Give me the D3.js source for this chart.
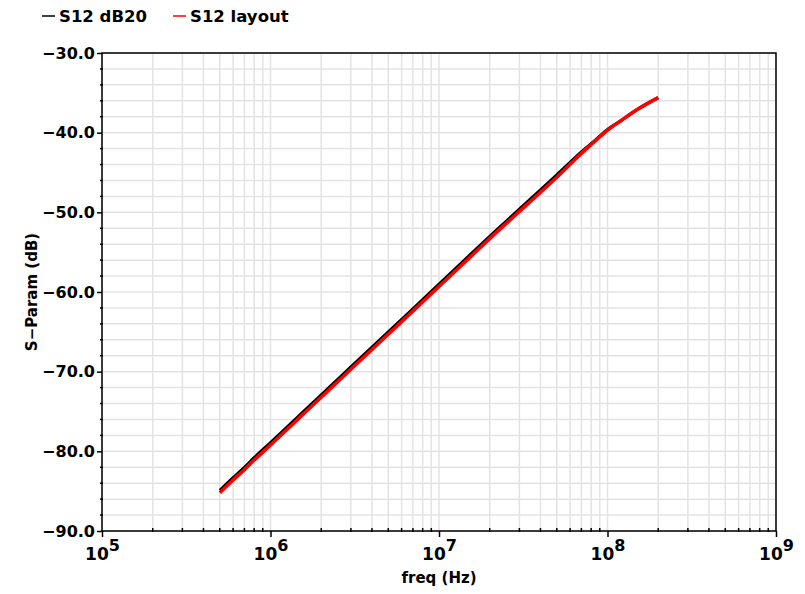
<!DOCTYPE html>
<html>
<head>
<meta charset="utf-8">
<script src="https://cdn.jsdelivr.net/npm/d3@7"></script>
<style>
  html, body { margin: 0; padding: 0; background: #fff; }
  svg { display: block; }
  text { font-family: "DejaVu Sans", Verdana, sans-serif; font-weight: bold; fill: #000; }
</style>
</head>
<body>
<svg id="chart" width="805" height="594"></svg>
<script>
// Frequency sweep points (Hz)
const freq = [5e5, 6e5, 7e5, 8e5, 1e6, 1.5e6, 2e6, 3e6, 5e6, 7e6, 1e7, 1.5e7, 2e7, 3e7, 5e7, 7e7, 8.5e7, 1e8, 1.2e8, 1.5e8, 2e8];
// S12 magnitude in dB, schematic simulation
const s12dB20 = [-84.9, -83.3, -82.0, -80.8, -78.9, -75.4, -72.9, -69.4, -65.0, -62.1, -59.0, -55.5, -53.0, -49.6, -45.3, -42.4, -40.9, -39.6, -38.5, -37.1, -35.6];
// S12 magnitude in dB, extracted layout
const s12Layout = [-85.2, -83.6, -82.3, -81.1, -79.2, -75.7, -73.2, -69.7, -65.3, -62.4, -59.3, -55.8, -53.3, -49.9, -45.6, -42.6, -41.0, -39.7, -38.5, -37.1, -35.6];

const xDomain = [1e5, 1e9];
const yDomain = [-90, -30];
const yTicks = [-90, -80, -70, -60, -50, -40, -30];
const xDecades = [5, 6, 7, 8, 9];
const seriesNames = ["S12 dB20", "S12 layout"];
const seriesColors = ["#000000", "#ff0000"];

const svg = d3.select("#chart");
const m = { left: 102, top: 53, right: 776, bottom: 531 };

const x = d3.scaleLog().domain(xDomain).range([m.left, m.right]);
const y = d3.scaleLinear().domain(yDomain).range([m.bottom, m.top]);

// Minor positions: 2..9 within each decade, and every 2 dB
const xMinor = [];
for (let e = 5; e < 9; e++) for (let k = 2; k <= 9; k++) xMinor.push(k * Math.pow(10, e));
const xMajor = xDecades.map(e => Math.pow(10, e));
const yMinor = d3.range(-90, -29, 2);

// Grid
const grid = svg.append("g").attr("stroke", "#e3e3e3").attr("stroke-width", 1.5);
grid.selectAll("line.v").data(xMinor.concat(xMajor)).join("line")
  .attr("x1", d => x(d)).attr("x2", d => x(d))
  .attr("y1", m.top).attr("y2", m.bottom);
grid.selectAll("line.h").data(yMinor).join("line")
  .attr("x1", m.left).attr("x2", m.right)
  .attr("y1", d => y(d)).attr("y2", d => y(d));

// Curves
const line = vals => d3.line().curve(d3.curveMonotoneX)
  .x((d, i) => x(freq[i])).y(d => y(d))(vals);
svg.append("path").attr("d", line(s12dB20))
  .attr("fill", "none").attr("stroke", seriesColors[0]).attr("stroke-width", 3)
  .attr("stroke-linejoin", "round");
svg.append("path").attr("d", line(s12Layout))
  .attr("fill", "none").attr("stroke", seriesColors[1]).attr("stroke-width", 3.5)
  .attr("stroke-linejoin", "round");

// Frame
svg.append("rect").attr("x", m.left).attr("y", m.top)
  .attr("width", m.right - m.left).attr("height", m.bottom - m.top)
  .attr("fill", "none").attr("stroke", "#000").attr("stroke-width", 1.5);

// Y axis
const yAxis = d3.axisLeft(y).tickValues(yTicks).tickSize(5).tickPadding(2)
  .tickFormat(d => d3.format(".1f")(d).replace("-", "\u2212"));
const gy = svg.append("g").attr("transform", `translate(${m.left},0)`).call(yAxis);
gy.select(".domain").remove();
gy.selectAll(".tick line").attr("stroke-width", 1.5);
gy.selectAll(".tick text").style("font-size", "16px").style("font-family", "DejaVu Sans").style("font-weight", "bold");
svg.append("g").selectAll("line").data(yMinor.filter(v => v % 10 !== 0)).join("line")
  .attr("x1", m.left - 2).attr("x2", m.left + 1)
  .attr("y1", d => y(d)).attr("y2", d => y(d))
  .attr("stroke", "#000").attr("stroke-width", 1.5);

// X axis
const xAxis = d3.axisBottom(x).tickValues(xMajor).tickSize(6).tickFormat("");
const gx = svg.append("g").attr("transform", `translate(0,${m.bottom})`).call(xAxis);
gx.select(".domain").remove();
gx.selectAll(".tick line").attr("stroke-width", 1.5);
svg.append("g").selectAll("line").data(xMinor).join("line")
  .attr("x1", d => x(d)).attr("x2", d => x(d))
  .attr("y1", m.bottom - 3).attr("y2", m.bottom + 1)
  .attr("stroke", "#000").attr("stroke-width", 1.5);
gx.selectAll(".tick").each(function(d, i) {
  const t = d3.select(this).append("text")
    .attr("y", 29).attr("text-anchor", "middle")
    .style("font-size", "17px").attr("fill", "#000");
  t.append("tspan").text("10");
  t.append("tspan").attr("dy", -9).style("font-size", "16px").text(String(xDecades[i]));
});

// Axis titles
svg.append("text").attr("x", (m.left + m.right) / 2).attr("y", 583)
  .attr("text-anchor", "middle").style("font-size", "15px").text("freq (Hz)");
svg.append("text").attr("transform", `translate(37,${(m.top + m.bottom) / 2}) rotate(-90)`)
  .attr("text-anchor", "middle").style("font-size", "15px").text("S\u2212Param (dB)");

// Legend
const legendX = [42, 173];
const leg = svg.append("g");
seriesNames.forEach((name, i) => {
  leg.append("line").attr("x1", legendX[i]).attr("x2", legendX[i] + 13)
    .attr("y1", 16).attr("y2", 16)
    .attr("stroke", seriesColors[i]).attr("stroke-width", 1.5);
  leg.append("text").attr("x", legendX[i] + 17).attr("y", 22)
    .style("font-size", "16.5px").text(name);
});
</script>
</body>
</html>
